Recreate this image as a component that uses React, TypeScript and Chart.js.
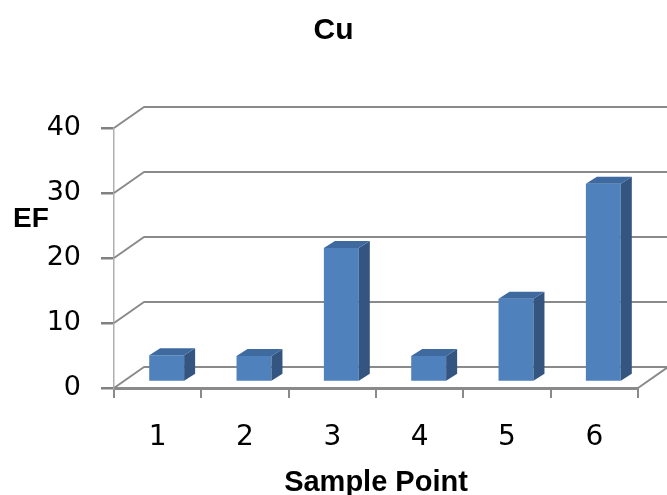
import React, { useEffect, useRef } from 'react';
import { Chart, registerables } from 'chart.js';

Chart.register(...registerables);

// ---- data ----
const TITLE = 'Cu';
const CATEGORIES = ['1', '2', '3', '4', '5', '6'];
const EF_VALUES = [4.1, 4.0, 20.6, 4.0, 12.8, 30.5];
const Y_MIN = 0;
const Y_MAX = 40;
const Y_STEP = 10;
const X_TITLE = 'Sample Point';
const Y_TITLE = 'EF';

// ---- styles ----
const W = 667;
const H = 495;
const WALL_DX = 30;
const WALL_DY = -21;
const BAR_SHIFT_X = 9;
const BAR_SHIFT_Y = -6;
const BAR_DEPTH_X = 11;
const BAR_DEPTH_Y = -7;
const GRID_COLOR = '#8a8a8a';
const FRONT = '#4f81bd';
const SIDE = '#34557f';
const TOP = '#3e6aa0';

const pseudo3d = {
  id: 'pseudo3d',
  beforeDatasetsDraw(chart: any) {
    const { ctx, chartArea } = chart;
    const ys = chart.scales.y;
    ctx.save();
    ctx.strokeStyle = GRID_COLOR;
    ctx.lineWidth = 2;
    ctx.lineJoin = 'round';
    ys.ticks.forEach((t: any) => {
      const yf = ys.getPixelForValue(t.value);
      ctx.beginPath();
      ctx.moveTo(chartArea.left, yf);
      ctx.lineTo(chartArea.left + WALL_DX, yf + WALL_DY);
      ctx.lineTo(chartArea.right + WALL_DX, yf + WALL_DY);
      if (t.value === Y_MIN) {
        ctx.lineTo(chartArea.right, yf);
      }
      ctx.stroke();
    });
    ctx.restore();
    ctx.save();
    ctx.translate(BAR_SHIFT_X, BAR_SHIFT_Y);
  },
  afterDatasetsDraw(chart: any) {
    const { ctx } = chart;
    chart.data.datasets.forEach((_: any, i: number) => {
      const meta = chart.getDatasetMeta(i);
      meta.data.forEach((bar: any) => {
        const { x, y, base, width } = bar.getProps(['x', 'y', 'base', 'width'], true);
        const l = x - width / 2;
        const r = x + width / 2;
        // side face
        ctx.fillStyle = SIDE;
        ctx.beginPath();
        ctx.moveTo(r, y);
        ctx.lineTo(r + BAR_DEPTH_X, y + BAR_DEPTH_Y);
        ctx.lineTo(r + BAR_DEPTH_X, base + BAR_DEPTH_Y);
        ctx.lineTo(r, base);
        ctx.closePath();
        ctx.fill();
        // top face
        ctx.fillStyle = TOP;
        ctx.beginPath();
        ctx.moveTo(l, y);
        ctx.lineTo(l + BAR_DEPTH_X, y + BAR_DEPTH_Y);
        ctx.lineTo(r + BAR_DEPTH_X, y + BAR_DEPTH_Y);
        ctx.lineTo(r, y);
        ctx.closePath();
        ctx.fill();
      });
    });
    ctx.restore();
  },
  afterDraw(chart: any) {
    const { ctx } = chart;
    ctx.save();
    ctx.fillStyle = '#000';
    ctx.font = 'bold 28px "Liberation Sans"';
    ctx.textAlign = 'left';
    ctx.textBaseline = 'middle';
    ctx.fillText(Y_TITLE, 13, 219);
    ctx.restore();
  },
};

export default function App() {
  const ref = useRef<HTMLCanvasElement | null>(null);
  useEffect(() => {
    if (!ref.current) return;
    const chart = new Chart(ref.current, {
      type: 'bar',
      data: {
        labels: CATEGORIES,
        datasets: [
          {
            label: Y_TITLE,
            data: EF_VALUES,
            backgroundColor: FRONT,
            borderWidth: 0,
            categoryPercentage: 0.8,
            barPercentage: 0.5,
            clip: false as any,
          },
        ],
      },
      options: {
        responsive: false,
        animation: false,
        devicePixelRatio: 1,
        layout: { padding: { left: 0, right: 0, top: 0, bottom: 0 } },
        plugins: {
          legend: { display: false },
          tooltip: { enabled: false },
          title: {
            display: true,
            text: TITLE,
            color: '#000',
            font: { family: 'Liberation Sans', weight: 'bold', size: 30 },
            padding: { top: 13, bottom: 79 },
          },
        },
        scales: {
          x: {
            grid: {
              offset: true,
              drawOnChartArea: false,
              drawTicks: true,
              tickLength: 10,
              color: GRID_COLOR,
              lineWidth: 2,
            },
            border: { display: true, color: GRID_COLOR, width: 3 },
            ticks: {
              color: '#000',
              font: { family: 'DejaVu Sans', size: 28 },
              padding: 23,
              maxRotation: 0,
            },
            title: {
              display: true,
              text: X_TITLE,
              color: '#000',
              font: { family: 'Liberation Sans', weight: 'bold', size: 29 },
              padding: { top: 0, bottom: -5 },
            },
            afterFit: (s: any) => {
              s.height = 107;
            },
          },
          y: {
            min: Y_MIN,
            max: Y_MAX,
            grid: {
              drawOnChartArea: false,
              drawTicks: true,
              tickLength: 13,
              color: '#808080',
              lineWidth: 2.5,
            },
            border: { display: true, color: '#b0b0b0', width: 1.5 },
            ticks: {
              stepSize: Y_STEP,
              color: '#000',
              font: { family: 'DejaVu Sans', size: 27 },
              padding: 20,
            },
            afterFit: (s: any) => {
              s.width = 114;
            },
          },
          yRight: {
            position: 'right',
            display: true,
            min: Y_MIN,
            max: Y_MAX,
            grid: { display: false },
            border: { display: false },
            ticks: { display: false },
            afterFit: (s: any) => {
              s.width = 29;
            },
          },
        },
      },
      plugins: [pseudo3d],
    });
    return () => chart.destroy();
  }, []);
  return (
    <canvas
      ref={ref}
      width={W}
      height={H}
      style={{ position: 'absolute', left: 0, top: 0, display: 'block' }}
    />
  );
}
